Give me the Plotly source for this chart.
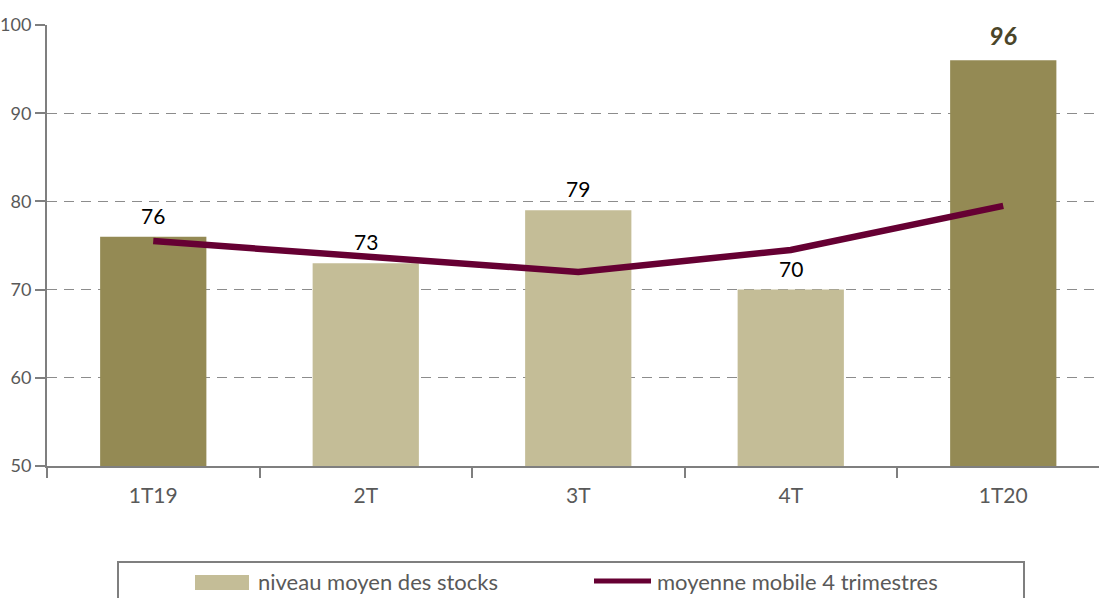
import plotly.graph_objects as go

categories = ["1T19", "2T", "3T", "4T", "1T20"]
stocks = [76, 73, 79, 70, 96]
moyenne_mobile = [75.5, 73.8, 72.0, 74.5, 79.5]
highlight = [True, False, False, False, True]
y_ticks = [50, 60, 70, 80, 90, 100]
legend_labels = ["niveau moyen des stocks", "moyenne mobile 4 trimestres"]

DARK = "#948A54"
LIGHT = "#C4BD97"
LINE = "#660033"
GRAY = "#7F7F7F"
TXT = "#595959"
FONT = "Lato"

W, H = 1099, 598
ML, MR, MT, MB = 47, 0, 25, 132
plot_w = W - ML - MR
plot_h = H - MT - MB
BASE = y_ticks[0]
CAT_PX = 212.5


def px(x):
    return (x - ML) / plot_w


def py(y):
    return (MT + plot_h - y) / plot_h


fig = go.Figure()

light_x = [c for c, h in zip(categories, highlight) if not h]
light_y = [v - BASE for v, h in zip(stocks, highlight) if not h]
dark_x = [c for c, h in zip(categories, highlight) if h]
dark_y = [v - BASE for v, h in zip(stocks, highlight) if h]

fig.add_trace(go.Bar(x=light_x, y=light_y, base=BASE, width=0.5,
                     marker=dict(color=LIGHT, line=dict(width=0)),
                     name=legend_labels[0], showlegend=False))
fig.add_trace(go.Bar(x=dark_x, y=dark_y, base=BASE, width=0.5,
                     marker=dict(color=DARK, line=dict(width=0)),
                     name=legend_labels[0], showlegend=False))
fig.add_trace(go.Scatter(x=categories, y=moyenne_mobile, mode="lines",
                         line=dict(color=LINE, width=6.5), name=legend_labels[1],
                         showlegend=False))

for c, v in zip(categories, stocks):
    if c == "1T20":
        fig.add_annotation(x=c, y=v, text="<b><i>%d</i></b>" % v, showarrow=False,
                           yanchor="bottom", yshift=8,
                           font=dict(family=FONT, size=25, color="#4A4529"))
    else:
        fig.add_annotation(x=c, y=v, text=str(v), showarrow=False, yanchor="bottom",
                           yshift=7, font=dict(family=FONT, size=21, color="#000000"))

# legend (drawn manually to match the wide swatches)
fig.add_shape(type="rect", xref="paper", yref="paper",
              x0=px(118), x1=px(1024), y0=py(640), y1=py(562),
              line=dict(color=GRAY, width=2), fillcolor="rgba(0,0,0,0)", layer="above")
fig.add_shape(type="rect", xref="paper", yref="paper",
              x0=px(195), x1=px(249), y0=py(590), y1=py(575),
              line=dict(width=0), fillcolor=LIGHT, layer="above")
fig.add_shape(type="line", xref="paper", yref="paper",
              x0=px(594), x1=px(651), y0=py(581), y1=py(581),
              line=dict(color=LINE, width=5), layer="above")
fig.add_annotation(xref="paper", yref="paper", x=px(256), y=py(581), xanchor="left",
                   yanchor="middle", text=legend_labels[0], showarrow=False,
                   font=dict(family=FONT, size=22, color=TXT))
fig.add_annotation(xref="paper", yref="paper", x=px(655), y=py(581), xanchor="left",
                   yanchor="middle", text=legend_labels[1], showarrow=False,
                   font=dict(family=FONT, size=22, color=TXT))

fig.update_layout(
    width=W, height=H,
    margin=dict(l=ML, r=MR, t=MT, b=MB, autoexpand=False),
    paper_bgcolor="white", plot_bgcolor="white",
    barmode="overlay",
    font=dict(family=FONT, color=TXT),
    showlegend=False,
    xaxis=dict(type="category", categoryorder="array", categoryarray=categories,
               range=[-0.5, -0.5 + plot_w / CAT_PX], showgrid=False,
               showline=True, linecolor=GRAY, linewidth=2, ticks="outside", ticklen=10,
               tickcolor=GRAY, tickwidth=2, tickson="boundaries", ticklabelstandoff=10,
               tickfont=dict(family=FONT, size=21, color=TXT), fixedrange=True),
    yaxis=dict(range=[50, 100], tickvals=y_ticks, showgrid=True, gridcolor="#8C8C8C",
               griddash="10px,7px", gridwidth=1, showline=True, linecolor=GRAY, linewidth=2,
               ticks="outside", ticklen=10, tickcolor=GRAY, tickwidth=2, zeroline=False,
               tickfont=dict(family=FONT, size=18, color=TXT), fixedrange=True),
)

fig.write_html("out.html", config={"displayModeBar": False},
               post_script="document.body.style.margin='0px';document.body.style.padding='0px';")
